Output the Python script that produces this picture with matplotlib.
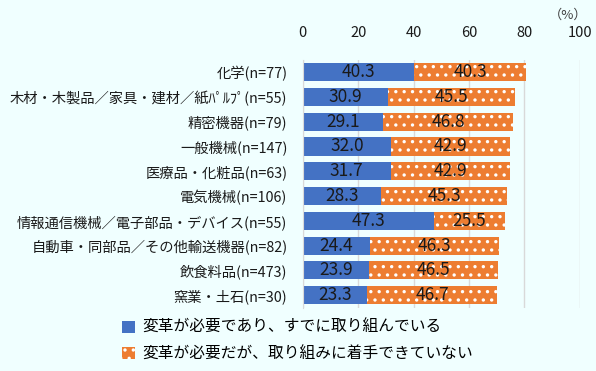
import matplotlib.pyplot as plt
import numpy as np
from matplotlib.patches import Patch

plt.rcParams['font.family'] = ['Noto Sans CJK JP', 'DejaVu Sans']
plt.rcParams['hatch.linewidth'] = 1.2

labels = ['化学(n=77)', '木材・木製品／家具・建材／紙ﾊﾟﾙﾌﾟ(n=55)', '精密機器(n=79)',
          '一般機械(n=147)', '医療品・化粧品(n=63)', '電気機械(n=106)',
          '情報通信機械／電子部品・デバイス(n=55)', '自動車・同部品／その他輸送機器(n=82)',
          '飲食料品(n=473)', '窯業・土石(n=30)']
doing = [40.3, 30.9, 29.1, 32.0, 31.7, 28.3, 47.3, 24.4, 23.9, 23.3]
not_yet = [40.3, 45.5, 46.8, 42.9, 42.9, 45.3, 25.5, 46.3, 46.5, 46.7]
legend_names = ['変革が必要であり、すでに取り組んでいる', '変革が必要だが、取り組みに着手できていない']

bg = '#F0FFFF'
blue = '#4472C4'
orange = '#ED7D31'

fig = plt.figure(figsize=(5.96, 3.71), dpi=100, facecolor=bg)
ax = fig.add_axes([0.508, 0.171, 0.465, 0.668], facecolor=bg)

y = np.arange(len(labels))
h = 0.73
ax.barh(y, doing, height=h, color=blue, zorder=2)
ax.barh(y, not_yet, left=doing, height=h, color=orange, edgecolor='white',
        hatch='..', linewidth=0, zorder=2)

for i in range(len(labels)):
    ax.text(doing[i] / 2, y[i], '%.1f' % doing[i], ha='center', va='center',
            fontsize=12.5, color='#1a1a1a', zorder=3)
    ax.text(doing[i] + not_yet[i] / 2, y[i], '%.1f' % not_yet[i], ha='center',
            va='center', fontsize=12.5, color='#1a1a1a', zorder=3)

ax.set_xlim(0, 100)
ax.set_ylim(len(labels) - 0.5, -0.5)
ax.set_xticks([0, 20, 40, 60, 80, 100])
ax.xaxis.tick_top()
ax.tick_params(axis='x', length=0, pad=14, labelsize=10.5, labelcolor='#1a1a1a')
ax.tick_params(axis='y', length=0, pad=11, labelsize=10.3, labelcolor='#1a1a1a')
ax.set_yticks(y)
ax.set_yticklabels(labels)
ax.grid(axis='x', color='#D9D9D9', linewidth=1, zorder=0)
for s in ['top', 'right', 'bottom']:
    ax.spines[s].set_visible(False)
ax.spines['left'].set_color('#D9D9D9')

fig.text(0.953, 0.958, '（%）', ha='center', va='center', fontsize=9.5, color='#404040')

handles = [Patch(facecolor=blue), Patch(facecolor=orange, edgecolor='white', hatch='..', linewidth=0)]
fig.legend(handles, legend_names, loc='upper left', bbox_to_anchor=(0.205, 0.14),
           frameon=False, fontsize=11.3, handlelength=0.8, handleheight=0.8,
           handletextpad=0.45, labelspacing=0.6, borderaxespad=0, borderpad=0)

plt.savefig('out.png', dpi=100, facecolor=bg)
